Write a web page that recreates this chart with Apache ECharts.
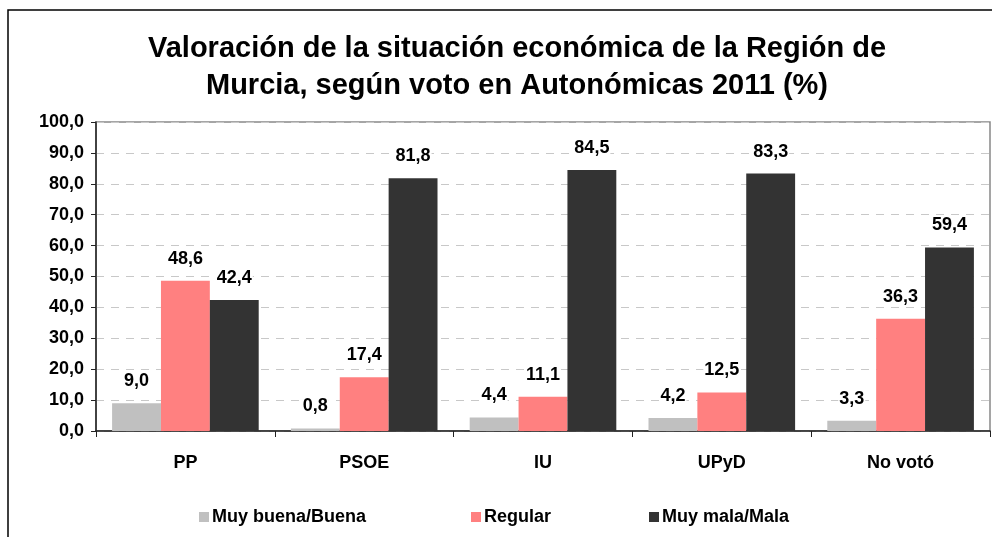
<!DOCTYPE html>
<html>
<head>
<meta charset="utf-8">
<script src="https://cdn.jsdelivr.net/npm/echarts@6/dist/echarts.min.js"></script>
<style>
  html, body { margin: 0; padding: 0; background: #fff; }
  #chart { width: 992px; height: 537px; }
</style>
</head>
<body>
<div id="chart"></div>
<script>
'use strict';

// datos
const partidos = ['PP', 'PSOE', 'IU', 'UPyD', 'No votó'];
const muyBuena = [9.0, 0.8, 4.4, 4.2, 3.3];
const regular = [48.6, 17.4, 11.1, 12.5, 36.3];
const muyMala = [42.4, 81.8, 84.5, 83.3, 59.4];
const nombres = ['Muy buena/Buena', 'Regular', 'Muy mala/Mala'];
const colores = ['#c0c0c0', '#ff8080', '#333333'];
// posición x de cada entrada de la leyenda
const leyendaX = [199, 471, 649];

const fuente = '"Liberation Sans", Arial, sans-serif';

function coma(v) {
    return v.toFixed(1).replace('.', ',');
}

function serie(nombre, datos, color) {
    return {
        name: nombre,
        type: 'bar',
        data: datos,
        barGap: 0,
        barCategoryGap: '18%',
        itemStyle: { color: color },
        label: {
            show: true,
            position: 'top',
            distance: 13,
            color: '#000',
            fontFamily: fuente,
            fontWeight: 'bold',
            fontSize: 18,
            backgroundColor: '#fff',
            padding: [0, 1],
            formatter: function (p) { return coma(p.value); }
        }
    };
}

let myChart = echarts.init(document.getElementById('chart'));
myChart.setOption({
    animation: false,
    backgroundColor: '#fff',
    title: {
        text: 'Valoración de la situación económica de la Región de\nMurcia, según voto en Autonómicas 2011 (%)',
        left: 512,
        textAlign: 'center',
        top: 25,
        textStyle: {
            fontFamily: fuente,
            fontWeight: 'bold',
            fontSize: 29,
            lineHeight: 37,
            color: '#000'
        }
    },
    graphic: [{
        // marco exterior
        type: 'rect',
        shape: { x: 8, y: 10, width: 1000, height: 600 },
        style: { fill: 'none', stroke: '#000', lineWidth: 1.5 },
        silent: true
    }],
    legend: nombres.map(function (n, i) {
        return {
            data: [n],
            left: leyendaX[i],
            top: 508,
            padding: 0,
            itemWidth: 10,
            itemHeight: 10,
            icon: 'rect',
            textStyle: {
                fontFamily: fuente,
                fontWeight: 'bold',
                fontSize: 18,
                color: '#000',
                padding: [0, 0, 0, -2]
            }
        };
    }),
    grid: {
        left: 96,
        top: 122,
        right: 2,
        bottom: 106,
        show: true,
        borderColor: '#888',
        borderWidth: 1.5
    },
    xAxis: {
        type: 'category',
        data: partidos,
        axisLine: { lineStyle: { color: '#222', width: 1.5 } },
        axisTick: { show: true, length: 6, lineStyle: { color: '#222' } },
        axisLabel: {
            margin: 23,
            color: '#000',
            fontFamily: fuente,
            fontWeight: 'bold',
            fontSize: 18
        }
    },
    yAxis: {
        type: 'value',
        min: 0,
        max: 100,
        interval: 10,
        axisLine: { show: true, lineStyle: { color: '#222', width: 1.5 } },
        axisTick: { show: true, length: 5, lineStyle: { color: '#222' } },
        axisLabel: {
            margin: 12,
            color: '#000',
            fontFamily: fuente,
            fontWeight: 'bold',
            fontSize: 18,
            formatter: function (v) { return coma(v); }
        },
        splitLine: { lineStyle: { color: '#c8c8c8', type: [8, 7] } }
    },
    series: [
        serie(nombres[0], muyBuena, colores[0]),
        serie(nombres[1], regular, colores[1]),
        serie(nombres[2], muyMala, colores[2])
    ]
});
</script>
</body>
</html>
